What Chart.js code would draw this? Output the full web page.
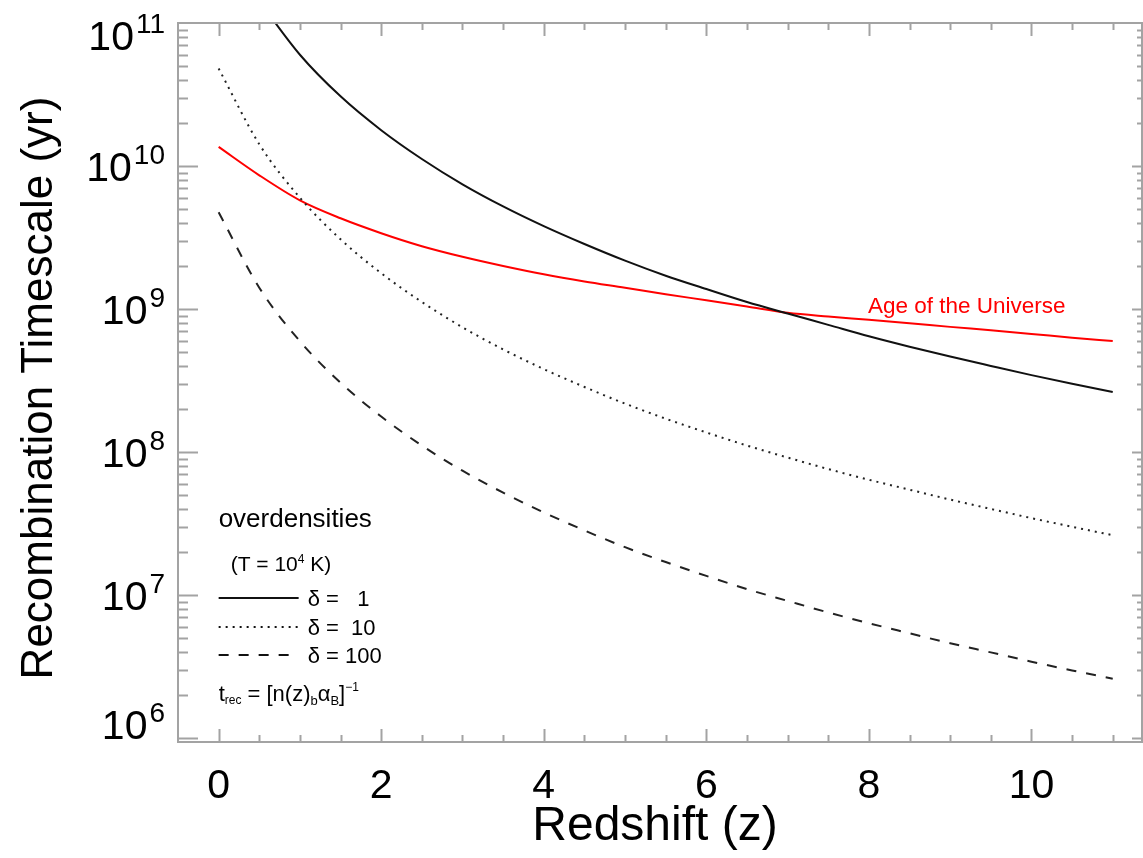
<!DOCTYPE html>
<html>
<head>
<meta charset="utf-8">
<script src="https://cdn.jsdelivr.net/npm/chart.js@4/dist/chart.umd.min.js"></script>
<style>
    body { margin: 0; background: #fff; }
    #wrap { width: 1143px; height: 858px; }
</style>
</head>
<body>
<div id="wrap"><canvas id="rec-chart"></canvas></div>
<script>
// redshift grid the curves were read at
const redshift = [0, 0.5, 1, 1.5, 2, 2.5, 3, 3.5, 4, 4.5, 5, 5.5, 6, 6.5, 7, 7.5, 8, 8.5, 9, 9.5, 10, 10.5, 11];

// recombination timescale (yr) for each overdensity
const tDelta1 = [null, 1.42e11, 6.0e10, 3.07e10, 1.78e10, 1.12e10, 7.45e9, 5.22e9, 3.8e9, 2.85e9, 2.18e9, 1.71e9,
    1.38e9, 1.12e9, 9.3e8, 7.75e8, 6.45e8, 5.45e8, 4.65e8, 4.0e8, 3.45e8, 3.0e8, 2.63e8];
const tDelta10 = [4.8e10, 1.42e10, 6.0e9, 3.07e9, 1.78e9, 1.12e9, 7.45e8, 5.22e8, 3.8e8, 2.85e8, 2.18e8, 1.71e8,
    1.37e8, 1.11e8, 9.15e7, 7.6e7, 6.4e7, 5.45e7, 4.65e7, 4.0e7, 3.45e7, 3.0e7, 2.62e7];
const tDelta100 = [4.75e9, 1.41e9, 5.95e8, 3.05e8, 1.77e8, 1.11e8, 7.4e7, 5.2e7, 3.78e7, 2.83e7, 2.16e7, 1.7e7,
    1.36e7, 1.1e7, 9.1e6, 7.55e6, 6.35e6, 5.4e6, 4.6e6, 3.97e6, 3.42e6, 2.97e6, 2.6e6];

// age of the universe (yr)
const ageUniverse = [1.36e10, 8.61e9, 5.75e9, 4.31e9, 3.39e9, 2.75e9, 2.32e9, 2.0e9, 1.75e9, 1.56e9, 1.41e9, 1.27e9,
    1.15e9, 1.04e9, 9.4e8, 8.85e8, 8.4e8, 7.95e8, 7.5e8, 7.1e8, 6.7e8, 6.3e8, 5.97e8];

// tick labels
const xTickValues = [0, 2, 4, 6, 8, 10];
const yTickExponents = [6, 7, 8, 9, 10, 11];

const FONT = '"Liberation Sans", Arial, Helvetica, sans-serif';
const AXIS_GRAY = '#a3a3a3';

function toPoints(values) {
    return redshift.map((z, i) => ({ x: z, y: values[i] }));
}

// draws a row of text pieces: [text, size, raise]
function richText(ctx, x, y, parts, color) {
    ctx.fillStyle = color;
    ctx.textAlign = 'left';
    ctx.textBaseline = 'alphabetic';
    let cx = x;
    parts.forEach(p => {
        ctx.font = p[1] + 'px ' + FONT;
        ctx.fillText(p[0], cx, y - (p[2] || 0));
        cx += ctx.measureText(p[0]).width;
    });
    return cx;
}

const framePlugin = {
    id: 'frame',
    afterDatasetsDraw(chart) {
        const ctx = chart.ctx;
        const area = chart.chartArea;
        const xs = chart.scales.x;
        const ys = chart.scales.y;

        ctx.save();
        ctx.strokeStyle = AXIS_GRAY;
        ctx.lineWidth = 2;
        ctx.strokeRect(area.left, area.top, area.right - area.left, area.bottom - area.top);

        // x ticks, bottom and top
        ctx.beginPath();
        for (let z = 0; z <= 11; z += 0.5) {
            const px = Math.round(xs.getPixelForValue(z)) + 0.5;
            const len = (z % 2 === 0) ? 13 : 7;
            ctx.moveTo(px, area.bottom);
            ctx.lineTo(px, area.bottom - len);
            ctx.moveTo(px, area.top);
            ctx.lineTo(px, area.top + len);
        }
        // y ticks, left and right
        for (let e = 5; e <= 10; e++) {
            for (let m = 1; m <= 9; m++) {
                const v = m * Math.pow(10, e);
                if (v < ys.min || v > ys.max) continue;
                const py = Math.round(ys.getPixelForValue(v)) + 0.5;
                const major = m === 1;
                ctx.moveTo(area.left, py);
                ctx.lineTo(area.left + (major ? 20 : 10), py);
                ctx.moveTo(area.right, py);
                ctx.lineTo(area.right - (major ? 10 : 5), py);
            }
        }
        ctx.stroke();

        // x tick labels
        ctx.fillStyle = '#000';
        ctx.font = '41px ' + FONT;
        ctx.textAlign = 'center';
        ctx.textBaseline = 'alphabetic';
        xTickValues.forEach(v => {
            ctx.fillText(String(v), xs.getPixelForValue(v), 798);
        });

        // y tick labels as 10^n
        yTickExponents.forEach(n => {
            let cy = ys.getPixelForValue(Math.pow(10, n));
            cy = Math.max(area.top + 12, Math.min(area.bottom - 18, cy));
            ctx.font = '41px ' + FONT;
            const wBase = ctx.measureText('10').width;
            ctx.font = '28px ' + FONT;
            const wExp = ctx.measureText(String(n)).width;
            const x0 = 165 - wBase - wExp - 2;
            richText(ctx, x0, cy + 15, [['10', 41, 0]], '#000');
            richText(ctx, x0 + wBase + 2, cy - 2, [[String(n), 28, 0]], '#000');
        });

        // axis titles
        ctx.fillStyle = '#000';
        ctx.textAlign = 'center';
        ctx.font = '48px ' + FONT;
        ctx.fillText('Redshift (z)', 655, 840);
        ctx.save();
        ctx.font = '44px ' + FONT;
        ctx.translate(52, 388);
        ctx.rotate(-Math.PI / 2);
        ctx.fillText('Recombination Timescale (yr)', 0, 0);
        ctx.restore();

        // curve label
        richText(ctx, 868, 313, [['Age of the Universe', 22.5, 0]], '#ff0000');

        // legend block
        const lx = xs.getPixelForValue(0);
        richText(ctx, lx, 527, [['overdensities', 26, 0]], '#000');
        richText(ctx, lx + 12, 571, [['(T = 10', 21, 0], ['4', 12, 8], [' K)', 21, 0]], '#000');

        const rows = [
            { y: 598, dash: [], label: 'δ =   1' },
            { y: 627, dash: [2, 5], label: 'δ =  10' },
            { y: 655, dash: [10, 10], label: 'δ = 100' }
        ];
        rows.forEach(r => {
            ctx.strokeStyle = '#111';
            ctx.lineWidth = 2;
            ctx.setLineDash(r.dash);
            ctx.beginPath();
            ctx.moveTo(lx, r.y);
            ctx.lineTo(lx + 80, r.y);
            ctx.stroke();
            ctx.setLineDash([]);
            richText(ctx, lx + 89, r.y + 8, [[r.label, 22, 0]], '#000');
        });

        richText(ctx, lx, 701, [
            ['t', 22, 0], ['rec', 12, -3], [' = [n(z)', 22, 0], ['b', 13, -4],
            ['α', 22, 0], ['B', 13, -4], [']', 22, 0], ['−1', 12, 10]
        ], '#000');

        ctx.restore();
    }
};

document.addEventListener('DOMContentLoaded', function() {
    const ctx = document.getElementById('rec-chart').getContext('2d');

    new Chart(ctx, {
        type: 'line',
        data: {
            datasets: [{
                label: 'delta = 1',
                data: toPoints(tDelta1),
                borderColor: '#111',
                borderWidth: 2
            }, {
                label: 'delta = 10',
                data: toPoints(tDelta10),
                borderColor: '#222',
                borderWidth: 2,
                borderDash: [2, 5]
            }, {
                label: 'delta = 100',
                data: toPoints(tDelta100),
                borderColor: '#222',
                borderWidth: 2,
                borderDash: [10, 10]
            }, {
                label: 'Age of the Universe',
                data: toPoints(ageUniverse),
                borderColor: '#ff0000',
                borderWidth: 2
            }]
        },
        options: {
            responsive: true,
            maintainAspectRatio: false,
            animation: false,
            layout: {
                padding: { left: 178, right: 1, top: 23, bottom: 116 }
            },
            elements: {
                point: { radius: 0 },
                line: { cubicInterpolationMode: 'monotone', fill: false }
            },
            plugins: {
                legend: { display: false },
                tooltip: { enabled: false }
            },
            scales: {
                x: {
                    type: 'linear',
                    min: -0.5,
                    max: 11.36,
                    display: false
                },
                y: {
                    type: 'logarithmic',
                    min: 9.38e5,
                    max: 1e11,
                    display: false
                }
            }
        },
        plugins: [framePlugin]
    });
});
</script>
</body>
</html>
